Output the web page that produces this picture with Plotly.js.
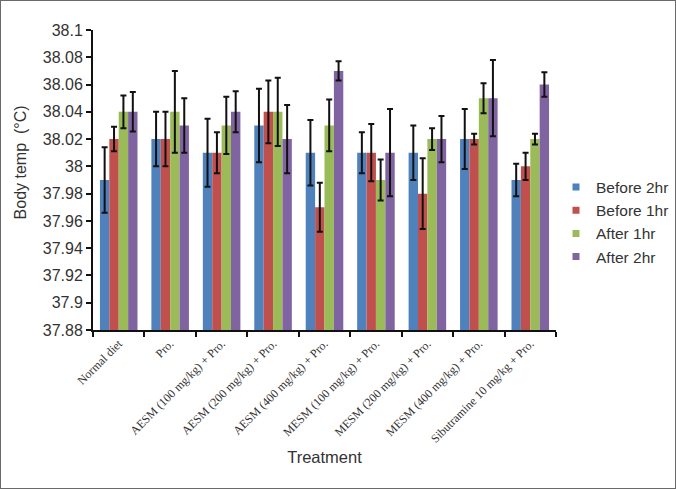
<!DOCTYPE html>
<html>
<head>
<meta charset="utf-8">
<script src="https://cdn.plot.ly/plotly-3.0.1.min.js"></script>
<style>
html,body{margin:0;padding:0;background:#fff;}
#wrap{width:676px;height:489px;box-sizing:border-box;border:1px solid #6a6a6a;overflow:hidden;}
#chart{width:674px;height:487px;}
</style>
</head>
<body>
<div id="wrap"><div id="chart"></div></div>
<script>
const categories = ["Normal diet","Pro.","AESM (100 mg/kg) + Pro.","AESM (200 mg/kg) + Pro.","AESM (400 mg/kg) + Pro.","MESM (100 mg/kg) + Pro.","MESM (200 mg/kg) + Pro.","MESM (400 mg/kg) + Pro.","Sibutramine 10 mg/kg + Pro."];
const seriesNames = ["Before 2hr","Before 1hr","After 1hr","After 2hr"];
const before2hr = [37.99, 38.02, 38.01, 38.03, 38.01, 38.01, 38.01, 38.02, 37.99];
const before1hr = [38.02, 38.02, 38.01, 38.04, 37.97, 38.01, 37.98, 38.02, 38.00];
const after1hr  = [38.04, 38.04, 38.03, 38.04, 38.03, 37.99, 38.02, 38.05, 38.02];
const after2hr  = [38.04, 38.03, 38.04, 38.02, 38.07, 38.01, 38.02, 38.05, 38.06];
const errBefore2hr = [0.024, 0.020, 0.025, 0.027, 0.024, 0.015, 0.020, 0.022, 0.012];
const errBefore1hr = [0.009, 0.020, 0.015, 0.023, 0.018, 0.021, 0.026, 0.004, 0.010];
const errAfter1hr  = [0.012, 0.030, 0.021, 0.025, 0.019, 0.015, 0.008, 0.011, 0.004];
const errAfter2hr  = [0.0145, 0.020, 0.015, 0.025, 0.007, 0.032, 0.017, 0.028, 0.009];
const yTicks = [37.88,37.9,37.92,37.94,37.96,37.98,38,38.02,38.04,38.06,38.08,38.1];
const colors = ["#4F81BD","#C0504D","#9BBB59","#8064A2"];
const xTitle = "Treatment";
const yTitle = "Body temp\u00a0\u00a0(°C)";

const values = [before2hr, before1hr, after1hr, after2hr];
const errs = [errBefore2hr, errBefore1hr, errAfter1hr, errAfter2hr];

const traces = [];
values.forEach((v, i) => {
  traces.push({
    type: 'bar', x: categories, y: v, name: seriesNames[i],
    marker: {color: colors[i], line: {width: 0}},
    error_y: {type: 'data', array: errs[i], visible: true, color: '#111', thickness: 2, width: 3},
    showlegend: false, legendgroup: seriesNames[i]
  });
});
values.forEach((v, i) => {
  traces.push({
    type: 'scatter', mode: 'markers', x: [null], y: [null], name: seriesNames[i],
    marker: {symbol: 'square', size: 7, color: colors[i]},
    showlegend: true, legendgroup: seriesNames[i], hoverinfo: 'skip'
  });
});

const layout = {
  width: 674, height: 487,
  margin: {l: 92, r: 110, t: 29, b: 158},
  paper_bgcolor: '#fff', plot_bgcolor: '#fff',
  barmode: 'group', bargap: 0.27, bargroupgap: 0,
  font: {family: 'Liberation Sans, Arial, sans-serif', color: '#333'},
  showlegend: true,
  legend: {
    xref: 'container', yref: 'container',
    x: 555/674, xanchor: 'left', y: 1 - 221/487, yanchor: 'middle',
    font: {size: 15.5, color: '#333', family: 'Liberation Sans, Arial, sans-serif'},
    tracegroupgap: 0, itemwidth: 30, bgcolor: 'rgba(0,0,0,0)'
  },
  xaxis: {
    type: 'category', tickangle: -45,
    showline: true, linecolor: '#111', linewidth: 2,
    ticks: 'outside', tickson: 'boundaries', ticklen: 5, tickwidth: 2, tickcolor: '#111',
    tickfont: {family: 'Liberation Serif, Times New Roman, serif', size: 12, color: '#333'},
    showgrid: false, zeroline: false,
    title: {text: xTitle, font: {size: 16.5, color: '#333', family: 'Liberation Sans, Arial, sans-serif'}, standoff: 7},
    automargin: false
  },
  yaxis: {
    range: [37.88, 38.1], tickmode: 'array', tickvals: yTicks,
    ticktext: yTicks.map(t => String(t)),
    showline: true, linecolor: '#111', linewidth: 2,
    ticks: 'outside', ticklen: 5, tickwidth: 2, tickcolor: '#111',
    tickfont: {size: 16, color: '#333'},
    showgrid: false, zeroline: false,
    automargin: false
  },
  annotations: [{
    text: yTitle, xref: 'paper', yref: 'paper', x: (19 - 92) / 472, y: 1 - (161 - 29) / 300,
    xanchor: 'center', yanchor: 'middle', textangle: -90, showarrow: false,
    font: {size: 16, color: '#333', family: 'Liberation Sans, Arial, sans-serif'}
  }]
};

Plotly.newPlot('chart', traces, layout, {displayModeBar: false, staticPlot: true});
</script>
</body>
</html>
